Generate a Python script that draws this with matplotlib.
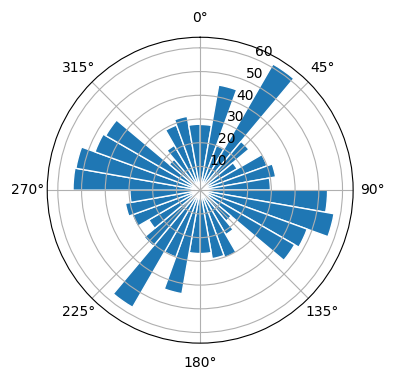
import numpy as np
import matplotlib
matplotlib.use("Agg")
import matplotlib.pyplot as plt

# Direction bins (degrees, start of each 10° bin) and bar heights
bin_starts = list(range(0, 360, 10))
counts = [27.7, 45.0, 20.0, 61.4, 26.8, 18.0, 30.0, 32.3, 29.6,
          53.7, 57.3, 48.0, 46.0, 17.0, 21.6, 30.2, 29.3, 26.7,
          26.7, 44.3, 30.0, 57.0, 30.8, 25.0, 30.5, 32.0, 29.6,
          53.6, 53.2, 47.2, 46.0, 17.0, 21.8, 29.2, 31.6, 27.8]
bin_width_deg = 10

fig = plt.figure(figsize=(3.96, 3.8), dpi=100)
ax = fig.add_axes([0.119, 0.097, 0.773, 0.805], projection='polar')
ax.set_theta_zero_location('N')
ax.set_theta_direction(-1)

theta = np.deg2rad(bin_starts)
ax.bar(theta, counts, width=np.deg2rad(bin_width_deg), align='edge',
       color='#1f77b4', edgecolor='white')
ax.set_rticks([10, 20, 30, 40, 50, 60])

fig.savefig('out.png', dpi=100)
